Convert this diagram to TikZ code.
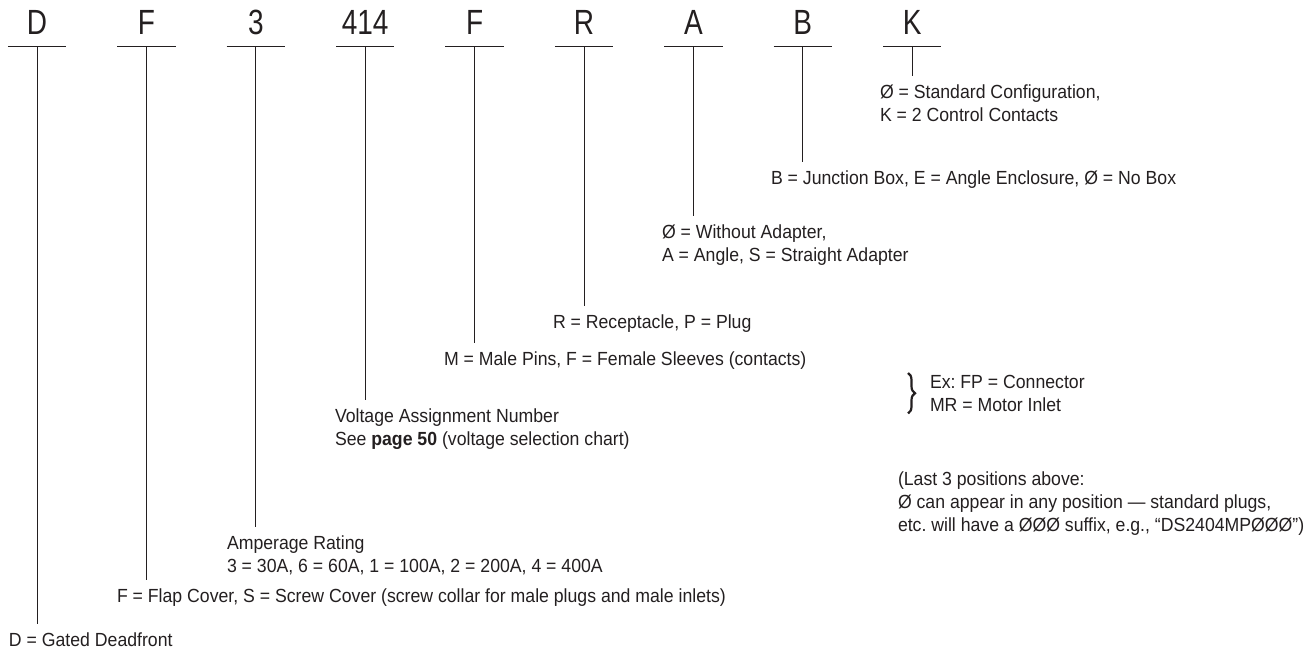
\documentclass[tikz,border=0pt]{standalone}
\usepackage{fontspec}
\setmainfont{Liberation Sans}
\newfontfamily\posfont[FakeStretch=0.8]{Liberation Sans}
\newfontfamily\descfont[FakeStretch=0.93]{Liberation Sans}
\usetikzlibrary{positioning,calc,decorations.pathreplacing}
\definecolor{cInk}{RGB}{35,31,32}
\frenchspacing
\tikzset{
  posn/.style  = {font=\posfont\fontsize{35}{35}\selectfont, text=cInk,
                  minimum width=58pt, inner sep=0pt, text depth=11pt,
                  anchor=base},
  desc/.style  = {font=\descfont\fontsize{19}{23}\selectfont, text=cInk,
                  align=left, anchor=north west, inner sep=0pt,
                  outer xsep=0pt, outer ysep=9pt},
  note/.style  = {desc, outer ysep=0pt},
  uline/.style = {draw=cInk, line width=0.9pt},
  lead/.style  = {draw=cInk, line width=0.9pt},
  brce/.style  = {draw=cInk, line width=2.2pt, decorate,
                  decoration={brace, amplitude=7pt}},
}

\begin{document}
\begin{tikzpicture}[x=1pt, y=-1pt]
  \useasboundingbox (0,0) rectangle (1312,652);

  % ---- catalogue positions ------------------------------------------
  \node[posn] (pD) at (37,35) {D};
  \node[posn] (pF) [right=51pt of pD.base east, anchor=base west] {F};
  \node[posn] (pA) [right=51pt of pF.base east, anchor=base west] {3};
  \node[posn] (pV) [right=51pt of pA.base east, anchor=base west] {414};
  \node[posn] (pC) [right=51pt of pV.base east, anchor=base west] {F};
  \node[posn] (pR) [right=51pt of pC.base east, anchor=base west] {R};
  \node[posn] (pN) [right=51pt of pR.base east, anchor=base west] {A};
  \node[posn] (pB) [right=51pt of pN.base east, anchor=base west] {B};
  \node[posn] (pK) [right=51pt of pB.base east, anchor=base west] {K};

  \foreach \p in {pD, pF, pA, pV, pC, pR, pN, pB, pK}
    \draw[uline] (\p.south west) -- (\p.south east);

  % ---- meanings, stepped down ---------------------------------------
  \node[desc] (dK) at (880,76)  {Ø = Standard Configuration,\\
                                 K = 2 Control Contacts};
  \node[desc] (dB) at (771,162) {B = Junction Box, E = Angle Enclosure,
                                 Ø = No Box};
  \node[desc] (dN) at (662,216) {Ø = Without Adapter,\\
                                 A = Angle, S = Straight Adapter};
  \node[desc] (dR) at (553,306) {R = Receptacle, P = Plug};
  \node[desc] (dC) at (444,343) {M = Male Pins, F = Female Sleeves (contacts)};
  \node[desc] (dV) at (335,400) {Voltage Assignment Number\\
                                 See \textbf{page 50} (voltage selection chart)};
  \node[desc] (dA) at (227,527) {Amperage Rating\\
                                 3 = 30A, 6 = 60A, 1 = 100A, 2 = 200A, 4 = 400A};
  \node[desc] (dF) at (117,580) {F = Flap Cover, S = Screw Cover (screw collar
                                 for male plugs and male inlets)};
  \node[desc] (dD) at (9,624)   {D = Gated Deadfront};

  \foreach \p/\d in {pD/dD, pF/dF, pA/dA, pV/dV, pC/dC, pR/dR, pN/dN,
                     pB/dB, pK/dK}
    \draw[lead] (\p.south) -- (\p.south |- \d.north);

  % ---- side notes ---------------------------------------------------
  \node[note] (ex) at (930,375) {Ex: FP = Connector\\MR = Motor Inlet};
  \draw[brce] ($(ex.north west)+(-22,-2)$) -- ($(ex.south west)+(-22,2)$);

  \node[note] (last) at (898,472)
    {(Last 3 positions above:\\
     Ø can appear in any position — standard plugs,\\
     etc. will have a ØØØ suffix, e.g., “DS2404MPØØØ”)};

\end{tikzpicture}
\end{document}
